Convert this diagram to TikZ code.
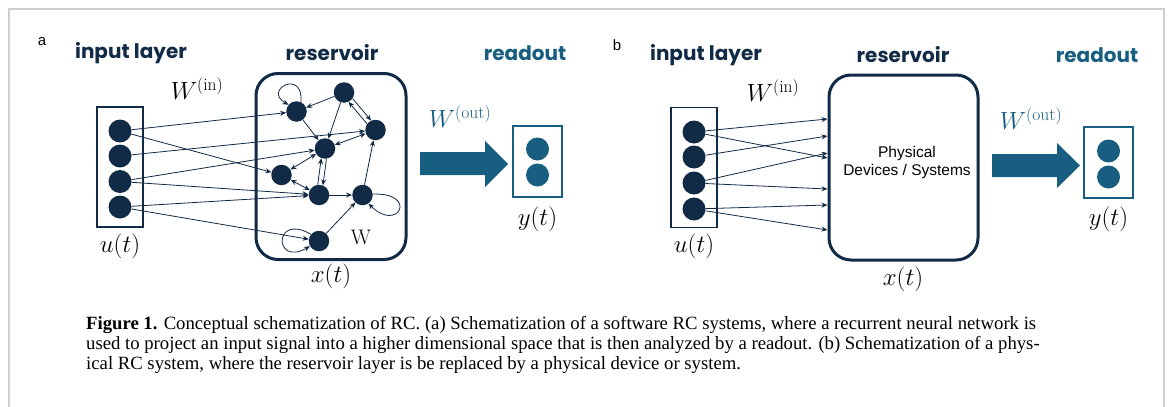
\documentclass[tikz,border=0pt]{standalone}
\usepackage{fontspec}
\newfontfamily\headfont{Poppins}
\newfontfamily\armfont{Liberation Sans}
\newfontfamily\capfont{Liberation Serif}
\usetikzlibrary{arrows.meta}
\definecolor{navy}{HTML}{112A46}
\definecolor{rteal}{HTML}{175E81}
\definecolor{framegray}{HTML}{CFCFCF}
\begin{document}
\begin{tikzpicture}[x=1pt,y=-1pt,
  inp/.style={circle,fill=navy,inner sep=0pt,minimum size=23pt},
  res/.style={circle,fill=navy,inner sep=0pt,minimum size=20.5pt},
  outd/.style={circle,fill=rteal,inner sep=0pt,minimum size=23pt},
  arr/.style={-{Stealth[length=6pt,width=5pt]},draw=navy,line width=0.8pt},
  barr/.style={{Stealth[length=6pt,width=5pt]}-{Stealth[length=6pt,width=5pt]},draw=navy,line width=0.8pt},
  headlab/.style={font=\headfont\bfseries\fontsize{20}{24}\selectfont,text=navy},
  mlab/.style={font=\fontsize{25}{28}\selectfont,text=black},
  panlab/.style={font=\armfont\fontsize{15}{18}\selectfont},
  inbox/.style={draw=navy,line width=1.2pt,minimum width=46pt,minimum height=120pt,inner sep=0pt},
  resbox/.style={draw=navy,line width=3pt,rounded corners=22pt,minimum width=150pt,minimum height=186pt,inner sep=0pt},
  outbox/.style={draw=rteal,line width=1.2pt,minimum width=49pt,minimum height=71pt,inner sep=0pt},
  bigarrow/.style={fill=rteal},
  caption/.style={font=\capfont\fontsize{18.7}{21}\selectfont,anchor=base west,inner sep=0pt}
]
\useasboundingbox (0,0) rectangle (1168,407);
\draw[framegray,line width=1.5pt] (9,407) -- (9,9) -- (1164,9) -- (1164,407);

% ---------------- panel a ----------------
\node[panlab] (la) at (42,42) {a};
\node[headlab] (hinA) at (131,53) {input layer};
\node[headlab] (hresA) at (332,53) {reservoir};
\node[headlab,text=rteal] (hroA) at (525,53) {readout};

\node[inbox] (inA) at (120,167) {};
\node[inp] (a1) at (120,131) {};
\node[inp] (a2) at (120,156) {};
\node[inp] (a3) at (120,181.5) {};
\node[inp] (a4) at (120,207) {};
\node[mlab] (uA) at (120,246) {$u(t)$};
\node[mlab] (winA) at (197,89) {$W^{(\mathrm{in})}$};

\node[resbox] (resA) at (331,166.5) {};
\node[res] (n1) at (296.5,111.5) {};
\node[res] (n2) at (344,92.5) {};
\node[res] (n3) at (375.5,130) {};
\node[res] (n4) at (325,148.5) {};
\node[res] (n5) at (281.5,175) {};
\node[res] (n6) at (319,195) {};
\node[res] (n7) at (362.5,195) {};
\node[res] (n8) at (319,241) {};
\node[font=\fontsize{21}{24}\selectfont] (wA) at (361,237) {W};
\node[mlab] (xA) at (331,276) {$x(t)$};

\draw[arr] (a1) -- (n1);
\draw[arr] (a1) -- (n5);
\draw[arr] (a2) -- (n3);
\draw[arr] (a3) -- (n4);
\draw[arr] (a3) -- (n6);
\draw[arr] (a4) -- (n6);
\draw[arr] (a4) -- (n8);

\draw[arr] (n2) -- (n1);
\draw[arr] (n2.-35.5) -- (n3.115.5);
\draw[arr] (n3.144.5) -- (n2.-64.5);
\draw[arr] (n2) -- (n4);
\draw[arr] (n1) -- (n4);
\draw[barr] (n3) -- (n4);
\draw[barr] (n4) -- (n5);
\draw[arr] (n4.-82.5) -- (n6.68.5);
\draw[arr] (n6.97.5) -- (n4.-111.5);
\draw[barr] (n6) -- (n5);
\draw[arr] (n6) -- (n7);
\draw[arr] (n7) -- (n3);
\draw[arr] (n8) -- (n7);
\draw[arr] (n1.65) .. controls +(-85:34) and +(-150:30) .. (n1.140);
\draw[arr] (n7.5) .. controls +(-2:46) and +(45:42) .. (n7.-55);
\draw[arr] (n8.140) .. controls +(-150:44) and +(-210:42) .. (n8.210);

\node[mlab,text=rteal] (woA) at (460,117) {$W^{(\mathrm{out})}$};
\fill[bigarrow] (420,152) -- (485,152) -- (485,141) -- (508,164) -- (485,187) -- (485,175) -- (420,175) -- cycle;
\node[outbox] (roA) at (537.5,161.5) {};
\node[outd] (r1) at (537.5,149) {};
\node[outd] (r2) at (537.5,175) {};
\node[mlab] (yA) at (537.5,219) {$y(t)$};

% ---------------- panel b ----------------
\node[panlab] (lb) at (617,45) {b};
\node[headlab] (hinB) at (706,55) {input layer};
\node[headlab] (hresB) at (903,55) {reservoir};
\node[headlab,text=rteal] (hroB) at (1097,55) {readout};

\node[inbox] (inB) at (694,167.5) {};
\node[inp] (b1) at (694,132) {};
\node[inp] (b2) at (694,157) {};
\node[inp] (b3) at (694,183) {};
\node[inp] (b4) at (694,209) {};
\node[mlab] (uB) at (694,246) {$u(t)$};
\node[mlab] (winB) at (773,91) {$W^{(\mathrm{in})}$};

\node[resbox,minimum width=149pt,minimum height=185pt] (resB) at (903.5,167.5) {};
\node[font=\armfont\fontsize{15.5}{18}\selectfont,align=center] (phys) at (907,162) {Physical\\Devices / Systems};
\node[mlab] (xB) at (903,279) {$x(t)$};

\coordinate (p1) at (827.5,119);
\coordinate (p2) at (827.5,136);
\coordinate (p3) at (827.5,153);
\coordinate (p4) at (827.5,158);
\coordinate (p5) at (827.5,189);
\coordinate (p6) at (827.5,205);
\coordinate (p7) at (827.5,230);
\draw[arr] (b1) -- (p1);
\draw[arr] (b1) -- (p4);
\draw[arr] (b2) -- (p2);
\draw[arr] (b3) -- (p3);
\draw[arr] (b3) -- (p5);
\draw[arr] (b4) -- (p6);
\draw[arr] (b4) -- (p7);

\node[mlab,text=rteal] (woB) at (1031,119) {$W^{(\mathrm{out})}$};
\fill[bigarrow] (992,154) -- (1057,154) -- (1057,143) -- (1080,165.5) -- (1057,188) -- (1057,177) -- (992,177) -- cycle;
\node[outbox] (roB) at (1108.5,162.5) {};
\node[outd] (s1) at (1108.5,151) {};
\node[outd] (s2) at (1108.5,177) {};
\node[mlab] (yB) at (1108.5,219) {$y(t)$};

% ---------------- caption ----------------
\node[caption] (c1) at (86,329) {\textbf{Figure 1.} Conceptual schematization of RC. (a) Schematization of a software RC systems, where a recurrent neural network is};
\node[caption] (c2) at (86,349) {used to project an input signal into a higher dimensional space that is then analyzed by a readout. (b) Schematization of a phys-};
\node[caption] (c3) at (86,369) {ical RC system, where the reservoir layer is be replaced by a physical device or system.};
\end{tikzpicture}
\end{document}
